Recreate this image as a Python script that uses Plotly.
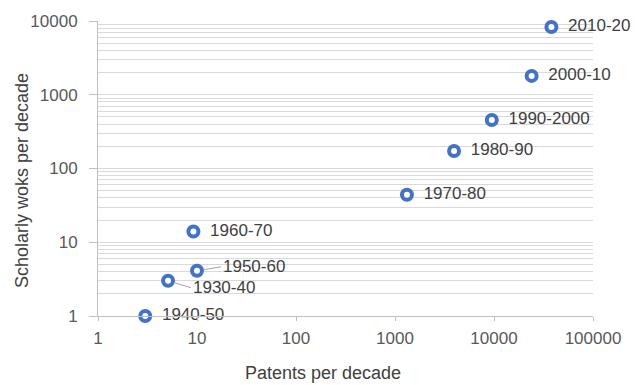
import numpy as np
import plotly.graph_objects as go

# Patents vs. scholarly works, one point per decade
decades = ["1930-40", "1940-50", "1950-60", "1960-70", "1970-80",
           "1980-90", "1990-2000", "2000-10", "2010-20"]
patents = [5.1, 3.0, 10.0, 9.2, 1320, 3950, 9500, 24000, 38000]
scholarly = [3.0, 1.0, 4.1, 14, 44, 173, 455, 1800, 8300]

# labels drawn with a leader line instead of plain text
leader_offsets = {"1950-60": (24, -4), "1930-40": (23, 7)}

BLUE = "#4472C4"
TEXT = "#404040"
TICK = "#595959"
FONT = "Liberation Sans, Arial, sans-serif"

plain_text = ["  " + d if d not in leader_offsets else "" for d in decades]

fig = go.Figure(go.Scatter(
    x=patents, y=scholarly,
    mode="markers+text",
    text=plain_text,
    textposition="middle right",
    textfont=dict(family=FONT, size=17, color=TEXT),
    marker=dict(symbol="circle", size=10, color="white",
                line=dict(color=BLUE, width=4)),
    cliponaxis=False,
    showlegend=False,
))

for d, px, sy in zip(decades, patents, scholarly):
    if d in leader_offsets:
        ax, ay = leader_offsets[d]
        fig.add_annotation(
            x=np.log10(px), y=np.log10(sy), xref="x", yref="y",
            text=d, showarrow=True, arrowhead=0, arrowwidth=1,
            arrowcolor="#a6a6a6", ax=ax, ay=ay, standoff=7,
            xanchor="left", yanchor="middle",
            font=dict(family=FONT, size=17, color=TEXT),
        )

# axis titles
fig.add_annotation(
    text="Patents per decade", xref="paper", yref="paper",
    x=0.4545, y=-0.193, xanchor="center", yanchor="middle", showarrow=False,
    font=dict(family=FONT, size=18, color=TEXT),
)
fig.add_annotation(
    text="Scholarly woks per decade", xref="paper", yref="paper",
    x=-0.1535, y=0.4576, xanchor="center", yanchor="middle", showarrow=False,
    textangle=-90,
    font=dict(family=FONT, size=18, color=TEXT),
)

fig.update_layout(
    width=642, height=385,
    margin=dict(l=98, r=49, t=21, b=69),
    paper_bgcolor="white", plot_bgcolor="white",
    font=dict(family=FONT, size=17, color=TEXT),
    xaxis=dict(
        type="log", range=[0, 5], dtick=1,
        showgrid=False, zeroline=False,
        showline=True, linecolor="#bfbfbf", linewidth=1,
        ticks="outside", ticklen=4, tickcolor="#bfbfbf",
        ticklabelstandoff=3,
        tickfont=dict(family=FONT, size=17, color=TICK),
        tickformat="d",
    ),
    yaxis=dict(
        type="log", range=[0, 4], dtick=1,
        showgrid=True, gridcolor="#d9d9d9", gridwidth=1,
        minor=dict(dtick="D1", showgrid=True, gridcolor="#d9d9d9", gridwidth=1),
        zeroline=False,
        showline=True, linecolor="#bfbfbf", linewidth=1,
        ticks="outside", ticklen=8, tickcolor="#bfbfbf",
        ticklabelstandoff=8,
        tickfont=dict(family=FONT, size=17, color=TICK),
        tickformat="d",
    ),
)

fig.write_html("out.html")
